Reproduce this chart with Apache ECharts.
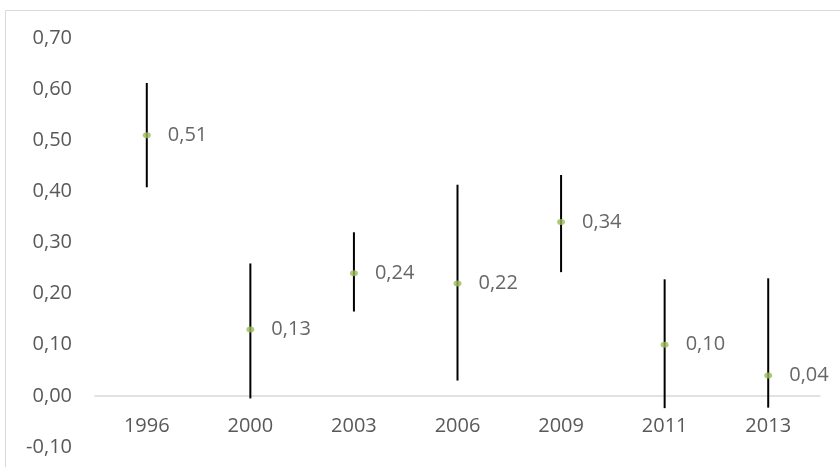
<!DOCTYPE html>
<html>
<head>
<meta charset="utf-8">
<script src="https://cdn.jsdelivr.net/npm/echarts@6/dist/echarts.min.js"></script>
<style>html,body{margin:0;padding:0;background:#fff;}#c{width:840px;height:467px;}</style>
</head>
<body>
<div id="c"></div>
<script>
const categories = ['1996', '2000', '2003', '2006', '2009', '2011', '2013'];
const values = [0.51, 0.13, 0.24, 0.22, 0.34, 0.10, 0.04];
const lowValues = [0.408, -0.005, 0.165, 0.030, 0.242, -0.024, -0.023];
const highValues = [0.612, 0.259, 0.320, 0.413, 0.432, 0.228, 0.230];
const yTicks = { min: -0.1, max: 0.7, interval: 0.1 };

const fmt = v => v.toFixed(2).replace('.', ',');
const font = 'Open Sans';
const errData = categories.map((c, i) => [i, lowValues[i], highValues[i]]);

const gridTop = 38, gridBottom = 20, H = 467;
const unitPx = (H - gridTop - gridBottom) / ((yTicks.max - yTicks.min) / yTicks.interval);

const chart = echarts.init(document.getElementById('c'), null, { renderer: 'canvas' });
chart.setOption({
  animation: false,
  backgroundColor: '#fff',
  graphic: [{
    type: 'rect', silent: true, z: -1,
    shape: { x: 5.5, y: 10.5, width: 850, height: 470 },
    style: { fill: 'none', stroke: '#d9d9d9', lineWidth: 1 }
  }],
  grid: { left: 95, right: 20, top: gridTop, bottom: gridBottom, containLabel: false, outerBoundsMode: 'none' },
  xAxis: {
    type: 'category',
    data: categories,
    offset: -unitPx * (0 - yTicks.min) / yTicks.interval,
    axisLine: { onZero: false, lineStyle: { color: '#d9d9d9', width: 1.5 } },
    axisTick: { show: false },
    axisLabel: { color: '#595959', fontFamily: font, fontSize: 20, margin: 20 }
  },
  yAxis: {
    type: 'value',
    min: yTicks.min, max: yTicks.max, interval: yTicks.interval,
    splitLine: { show: false },
    axisLine: { show: false },
    axisTick: { show: false },
    axisLabel: { color: '#595959', fontFamily: font, fontSize: 20, margin: 23, formatter: v => fmt(v) }
  },
  series: [{
    type: 'custom',
    data: errData,
    z: 2,
    renderItem: function (params, api) {
      const lo = api.coord([api.value(0), api.value(1)]);
      const hi = api.coord([api.value(0), api.value(2)]);
      return {
        type: 'line',
        shape: { x1: lo[0], y1: lo[1], x2: hi[0], y2: hi[1] },
        style: { stroke: '#000', lineWidth: 2 }
      };
    }
  }, {
    type: 'scatter',
    data: values,
    z: 3,
    symbol: 'circle',
    symbolSize: [8, 6],
    itemStyle: { color: '#9bbb59' },
    label: {
      show: true, position: 'right', distance: 17,
      color: '#404040', fontFamily: font, fontSize: 20,
      formatter: p => fmt(p.value)
    }
  }]
});
</script>
</body>
</html>
